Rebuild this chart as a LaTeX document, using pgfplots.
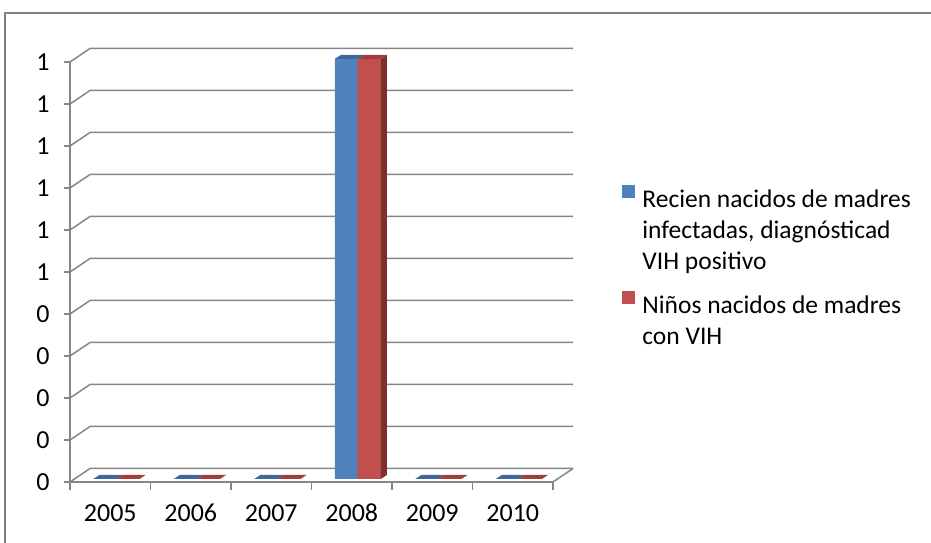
\documentclass[border=0pt]{standalone}
\usepackage{fontspec}
\setmainfont{Carlito}
\usepackage{pgfplots}
\pgfplotsset{compat=1.18}
\definecolor{sblue}{RGB}{79,129,189}
\definecolor{sbluetop}{RGB}{62,104,158}
\definecolor{sred}{RGB}{192,80,77}
\definecolor{sredtop}{RGB}{160,62,59}
\definecolor{sredside}{RGB}{128,46,44}
\definecolor{gridgray}{RGB}{134,134,134}
\definecolor{framegray}{RGB}{128,128,128}

% 3D top face of the left bar (its side is hidden behind the right bar)
\pgfdeclareplotmark{bar3dL}{%
  \pgfsetfillcolor{sbluetop}%
  \pgfpathmoveto{\pgfpoint{-23pt}{0pt}}%
  \pgfpathlineto{\pgfpoint{0pt}{0pt}}%
  \pgfpathlineto{\pgfpoint{6pt}{4pt}}%
  \pgfpathlineto{\pgfpoint{-17pt}{4pt}}%
  \pgfpathclose\pgfusepath{fill}%
}
% 3D top and side faces of the right bar
\pgfdeclareplotmark{bar3dR}{%
  \pgfmathsetlengthmacro\sidebot{4pt-\ry*420pt}%
  \pgfmathsetlengthmacro\sidelow{-\ry*420pt}%
  \pgfsetfillcolor{sredside}%
  \pgfpathmoveto{\pgfpoint{23pt}{0pt}}%
  \pgfpathlineto{\pgfpoint{23pt}{\sidelow}}%
  \pgfpathlineto{\pgfpoint{29pt}{\sidebot}}%
  \pgfpathlineto{\pgfpoint{29pt}{4pt}}%
  \pgfpathclose\pgfusepath{fill}%
  \pgfsetfillcolor{sredtop}%
  \pgfpathmoveto{\pgfpoint{0pt}{0pt}}%
  \pgfpathlineto{\pgfpoint{23pt}{0pt}}%
  \pgfpathlineto{\pgfpoint{29pt}{4pt}}%
  \pgfpathlineto{\pgfpoint{6pt}{4pt}}%
  \pgfpathclose\pgfusepath{fill}%
}

\pgfplotstableread{
x  recien  ninos
0  0       0
1  0       0
2  0       0
3  1       1
4  0       0
5  0       0
}\datatable

\begin{document}
\begin{tikzpicture}[x=1pt,y=1pt]
\useasboundingbox (0,0) rectangle (931,543);
\draw[framegray, line width=1.8pt] (5,-5) -- (5,530) -- (940,530);

% front plane, grid, ticks
\begin{axis}[
  at={(70pt,61pt)}, anchor=south west,
  scale only axis, width=483pt, height=420pt,
  xmin=-0.5, xmax=5.5, ymin=0, ymax=1,
  axis lines*=left,
  axis line style={gridgray, line width=1.5pt},
  tick style={gridgray, line width=1.5pt},
  tick align=outside,
  major tick length=6pt,
  minor tick length=8pt,
  ytick={0,0.1,0.2,0.3,0.4,0.5,0.6,0.7,0.8,0.9,1},
  yticklabels={0,0,0,0,0,1,1,1,1,1,1},
  xtick={0,1,2,3,4,5},
  xticklabels={2005,2006,2007,2008,2009,2010},
  major x tick style={draw=none},
  minor xtick={-0.5,0.5,1.5,2.5,3.5,4.5,5.5},
  ticklabel style={font=\fontsize{26}{30}\selectfont, text=black},
  yticklabel style={xshift=-11pt},
  xticklabel style={yshift=-12pt, text height=18pt, text depth=0pt},
  /pgf/number format/assume math mode=true,
  clip=false,
]
\pgfplotsinvokeforeach{0,0.1,0.2,0.3,0.4,0.5,0.6,0.7,0.8,0.9,1}{
  \draw[gridgray, line width=1.5pt] (axis cs:-0.5,#1) -- ++(20pt,13.5pt) -- ([xshift=20pt,yshift=13.5pt]axis cs:5.5,#1);
}
\draw[gridgray, line width=1.5pt] (axis cs:5.5,0) -- ++(20pt,13.5pt);
\end{axis}

% bars, at mid depth
\begin{axis}[
  at={(76pt,64pt)}, anchor=south west,
  scale only axis, width=483pt, height=420pt,
  xmin=-0.5, xmax=5.5, ymin=0, ymax=1,
  hide axis, clip=false,
  legend style={at={(axis description cs:1.13,0.70)}, anchor=north west,
    draw=none, fill=none, font=\fontsize{25.5}{31}\selectfont,
    row sep=82pt, column sep=0pt, inner sep=0pt,
    nodes={inner sep=0pt}},
  legend cell align=left,
]
\addplot[ybar, bar width=23pt, bar shift=-11.5pt, fill=sblue, draw=none, forget plot] table[x=x,y=recien] {\datatable};
\addplot[only marks, mark=bar3dL, forget plot] table[x=x,y=recien] {\datatable};
\addplot[ybar, bar width=23.5pt, bar shift=11.25pt, fill=sred, draw=none, forget plot] table[x=x,y=ninos] {\datatable};
\addplot[only marks, mark=bar3dR, visualization depends on={rawy \as \ry}, forget plot] table[x=x,y=ninos] {\datatable};
\addlegendimage{legend image code/.code={\fill[sblue] (0pt,2pt) rectangle (12pt,14pt);}}
\addlegendentry{\hspace{8pt}\vtop{\baselineskip=31pt\hbox{Recien nacidos de madres}\hbox{infectadas, diagnósticad}\hbox{VIH positivo}}}
\addlegendimage{legend image code/.code={\fill[sred] (0pt,2pt) rectangle (12pt,14pt);}}
\addlegendentry{\hspace{8pt}\vtop{\baselineskip=31pt\hbox{Niños nacidos de madres}\hbox{con VIH}}}
\end{axis}
\end{tikzpicture}
\end{document}
